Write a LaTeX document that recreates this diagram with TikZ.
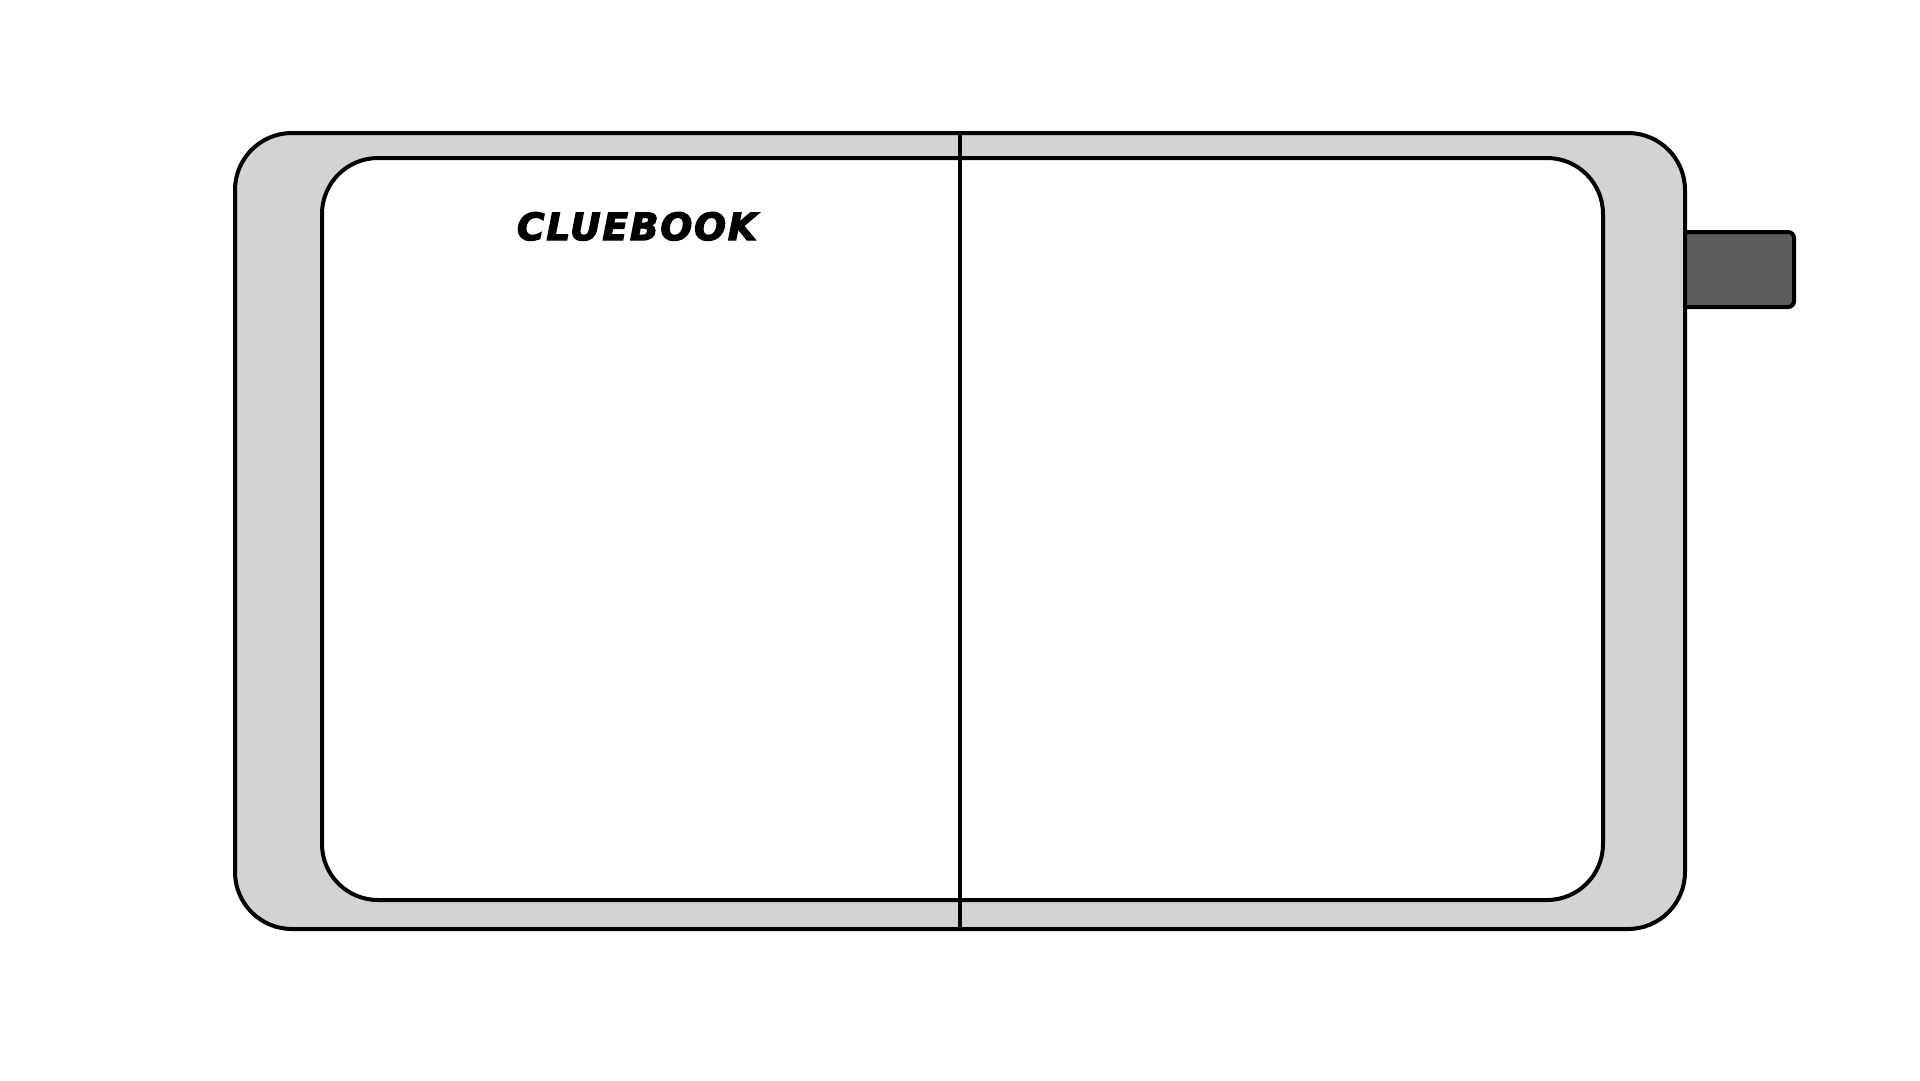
\documentclass[tikz,border=0pt]{standalone}
\usepackage{fontspec}
\newfontfamily\brandfont[FakeBold=3.5,LetterSpace=5]{DejaVu Sans Bold Oblique}
\definecolor{cover}{HTML}{D3D3D3}
\definecolor{tabgray}{HTML}{5C5C5C}
\begin{document}
\begin{tikzpicture}[x=1pt,y=-1pt,line width=4pt,
  edge/.style={draw=black,line width=4pt}]
\useasboundingbox[fill=white] (0,0) rectangle (1920,1080);
% tab
\draw[edge,fill=tabgray,rounded corners=6pt] (1660,232) rectangle (1794,307);
% outer cover
\draw[edge,fill=cover,rounded corners=57pt] (235,133) rectangle (1685,929);
% inner pages
\draw[edge,fill=white,rounded corners=56pt] (322,158) rectangle (1603,900);
% spine
\coordinate (spinetop) at (960,133);
\coordinate (spinebot) at (960,927);
\draw[edge] (spinetop) -- (spinebot);
% title
\node[font={\brandfont\fontsize{37.5}{37.5}\selectfont},inner sep=0pt,anchor=base] (title) at (637,240) {CLUEBOOK};
\end{tikzpicture}
\end{document}
